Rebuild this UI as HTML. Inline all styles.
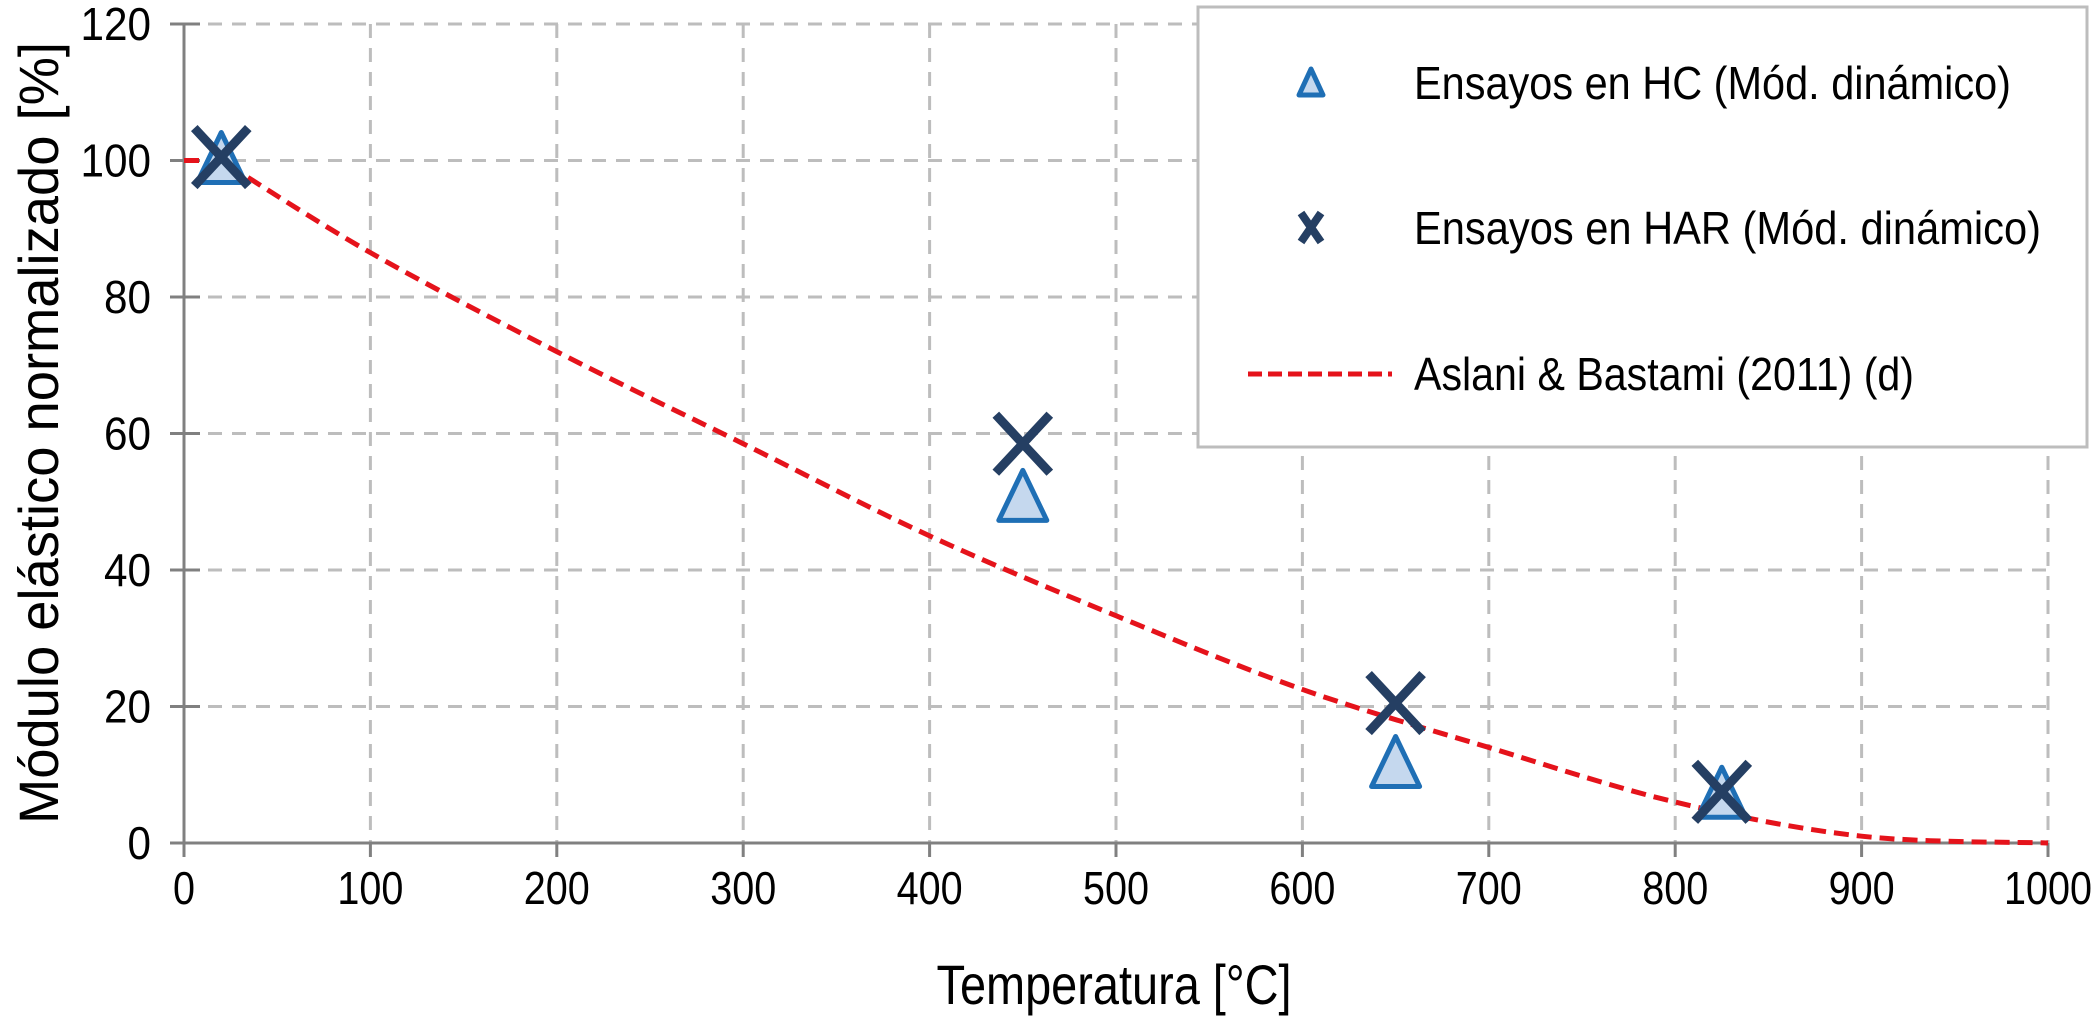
<!DOCTYPE html>
<html><head><meta charset="utf-8"><style>
html,body{margin:0;padding:0;background:#fff;}
svg{display:block;font-family:"Liberation Sans",Arial,sans-serif;}
</style></head><body>
<svg id="chart" width="2092" height="1017" viewBox="0 0 2092 1017">
<g id="grid"></g>
<g id="axes"></g>
<g id="series"></g>
<g id="legend">
  <rect x="1198" y="7" width="889" height="440" fill="#fff" stroke="#bdbdbd" stroke-width="3"/>
  <g>
    <polygon points="1311,69 1299,95 1323,95" fill="#c5d8ee" stroke="#1f6fb5" stroke-width="5" stroke-linejoin="round"/>
    <text x="1414" y="99" font-size="46" textLength="597" lengthAdjust="spacingAndGlyphs">Ensayos en HC (Mód. dinámico)</text>
  </g>
  <g>
    <path d="M1301,213 L1321,242 M1321,213 L1301,242" stroke="#253f63" stroke-width="8"/>
    <text x="1414" y="244" font-size="46" textLength="627" lengthAdjust="spacingAndGlyphs">Ensayos en HAR (Mód. dinámico)</text>
  </g>
  <g>
    <line x1="1248" y1="374" x2="1392" y2="374" stroke="#e5131b" stroke-width="5" stroke-dasharray="14,6"/>
    <text x="1414" y="390" font-size="46" textLength="500" lengthAdjust="spacingAndGlyphs">Aslani &amp; Bastami (2011) (d)</text>
  </g>
</g>
<text x="1114" y="1004" font-size="56" text-anchor="middle" textLength="355" lengthAdjust="spacingAndGlyphs">Temperatura [°C]</text>
<text x="0" y="0" font-size="56" text-anchor="middle" textLength="782" lengthAdjust="spacingAndGlyphs" transform="translate(58,433) rotate(-90)">Módulo elástico normalizado [%]</text>
</svg>
<script>
const xTicks = [0,100,200,300,400,500,600,700,800,900,1000];
const yTicks = [0,20,40,60,80,100,120];
const hcX = [20,450,650,825];
const hcY = [100,50.5,11.5,7];
const harX = [20,450,650,825];
const harY = [100.5,58.5,20.5,7.5];
const curveX = [0,20,100,200,300,400,500,600,700,800,900,1000];
const curveY = [100,100,86.5,72,58.5,45,33.3,22.5,14,6,1,0];

const X0=184, X1=2048, Y0=843, Y1=24;
const sx = v => X0 + (v-0)/(1000-0)*(X1-X0);
const sy = v => Y0 - (v-0)/(120-0)*(Y0-Y1);
const NS="http://www.w3.org/2000/svg";
function mk(tag, attrs, parent){const e=document.createElementNS(NS,tag);for(const k in attrs)e.setAttribute(k,attrs[k]);parent.appendChild(e);return e;}
const grid=document.getElementById('grid'), axes=document.getElementById('axes'), series=document.getElementById('series');

xTicks.forEach(t=>{
  if(t>0){const g=mk('line',{x1:sx(t),x2:sx(t),y1:Y1,y2:Y0,stroke:'#bdbdbd','stroke-width':3,'stroke-dasharray':'14,10'},grid);
  
  }
  const tk=mk('line',{x1:sx(t),x2:sx(t),y1:Y0,y2:Y0+14,stroke:'#808080','stroke-width':3},axes);
  
  
  const s=String(t);
  const lb=mk('text',{x:sx(t),y:904,'font-size':46,'text-anchor':'middle',textLength:s.length*22,lengthAdjust:'spacingAndGlyphs'},axes);
  lb.textContent=s;
  
  
});
yTicks.forEach(t=>{
  if(t>0){const g=mk('line',{x1:X0,x2:X1,y1:sy(t),y2:sy(t),stroke:'#bdbdbd','stroke-width':3,'stroke-dasharray':'14,10'},grid);
  
  }
  const tk=mk('line',{x1:X0-14,x2:X0+16,y1:sy(t),y2:sy(t),stroke:'#808080','stroke-width':3},axes);
  
  
  const s=String(t);
  const lb=mk('text',{x:151,y:sy(t)+16,'font-size':46,'text-anchor':'end',textLength:s.length*23.5,lengthAdjust:'spacingAndGlyphs'},axes);
  lb.textContent=s;
  
  
});
const ya=mk('line',{x1:X0,x2:X0,y1:Y1,y2:Y0,stroke:'#808080','stroke-width':3},axes);


const xa=mk('line',{x1:X0,x2:X1,y1:Y0,y2:Y0,stroke:'#808080','stroke-width':3},axes);



const pts=curveX.map((v,i)=>[sx(v),sy(curveY[i])]);
let d='M'+pts[0][0]+','+pts[0][1]+' L'+pts[1][0]+','+pts[1][1];
for(let i=1;i<pts.length-1;i++){
  const p0=pts[Math.max(1,i-1)],p1=pts[i],p2=pts[i+1],p3=pts[Math.min(pts.length-1,i+2)];
  const c1=[p1[0]+(p2[0]-p0[0])/6,p1[1]+(p2[1]-p0[1])/6];
  const c2=[p2[0]-(p3[0]-p1[0])/6,p2[1]-(p3[1]-p1[1])/6];
  d+=` C${c1[0]},${c1[1]} ${c2[0]},${c2[1]} ${p2[0]},${p2[1]}`;
}
const cv=mk('path',{d:d,fill:'none',stroke:'#e5131b','stroke-width':5,'stroke-dasharray':'15,8'},series);



hcX.forEach((v,i)=>{
  const x=sx(v),y=sy(hcY[i]);
  const p=mk('polygon',{points:`${x},${y-28} ${x-24},${y+22} ${x+24},${y+22}`,fill:'#c5d8ee',stroke:'#1f6fb5','stroke-width':5,'stroke-linejoin':'round'},series);
  
  
});
harX.forEach((v,i)=>{
  const x=sx(v),y=sy(harY[i]);
  const p=mk('path',{d:`M${x-27},${y-29} L${x+27},${y+29} M${x+27},${y-29} L${x-27},${y+29}`,stroke:'#253f63','stroke-width':9},series);
  
  
});
</script>
</body></html>
